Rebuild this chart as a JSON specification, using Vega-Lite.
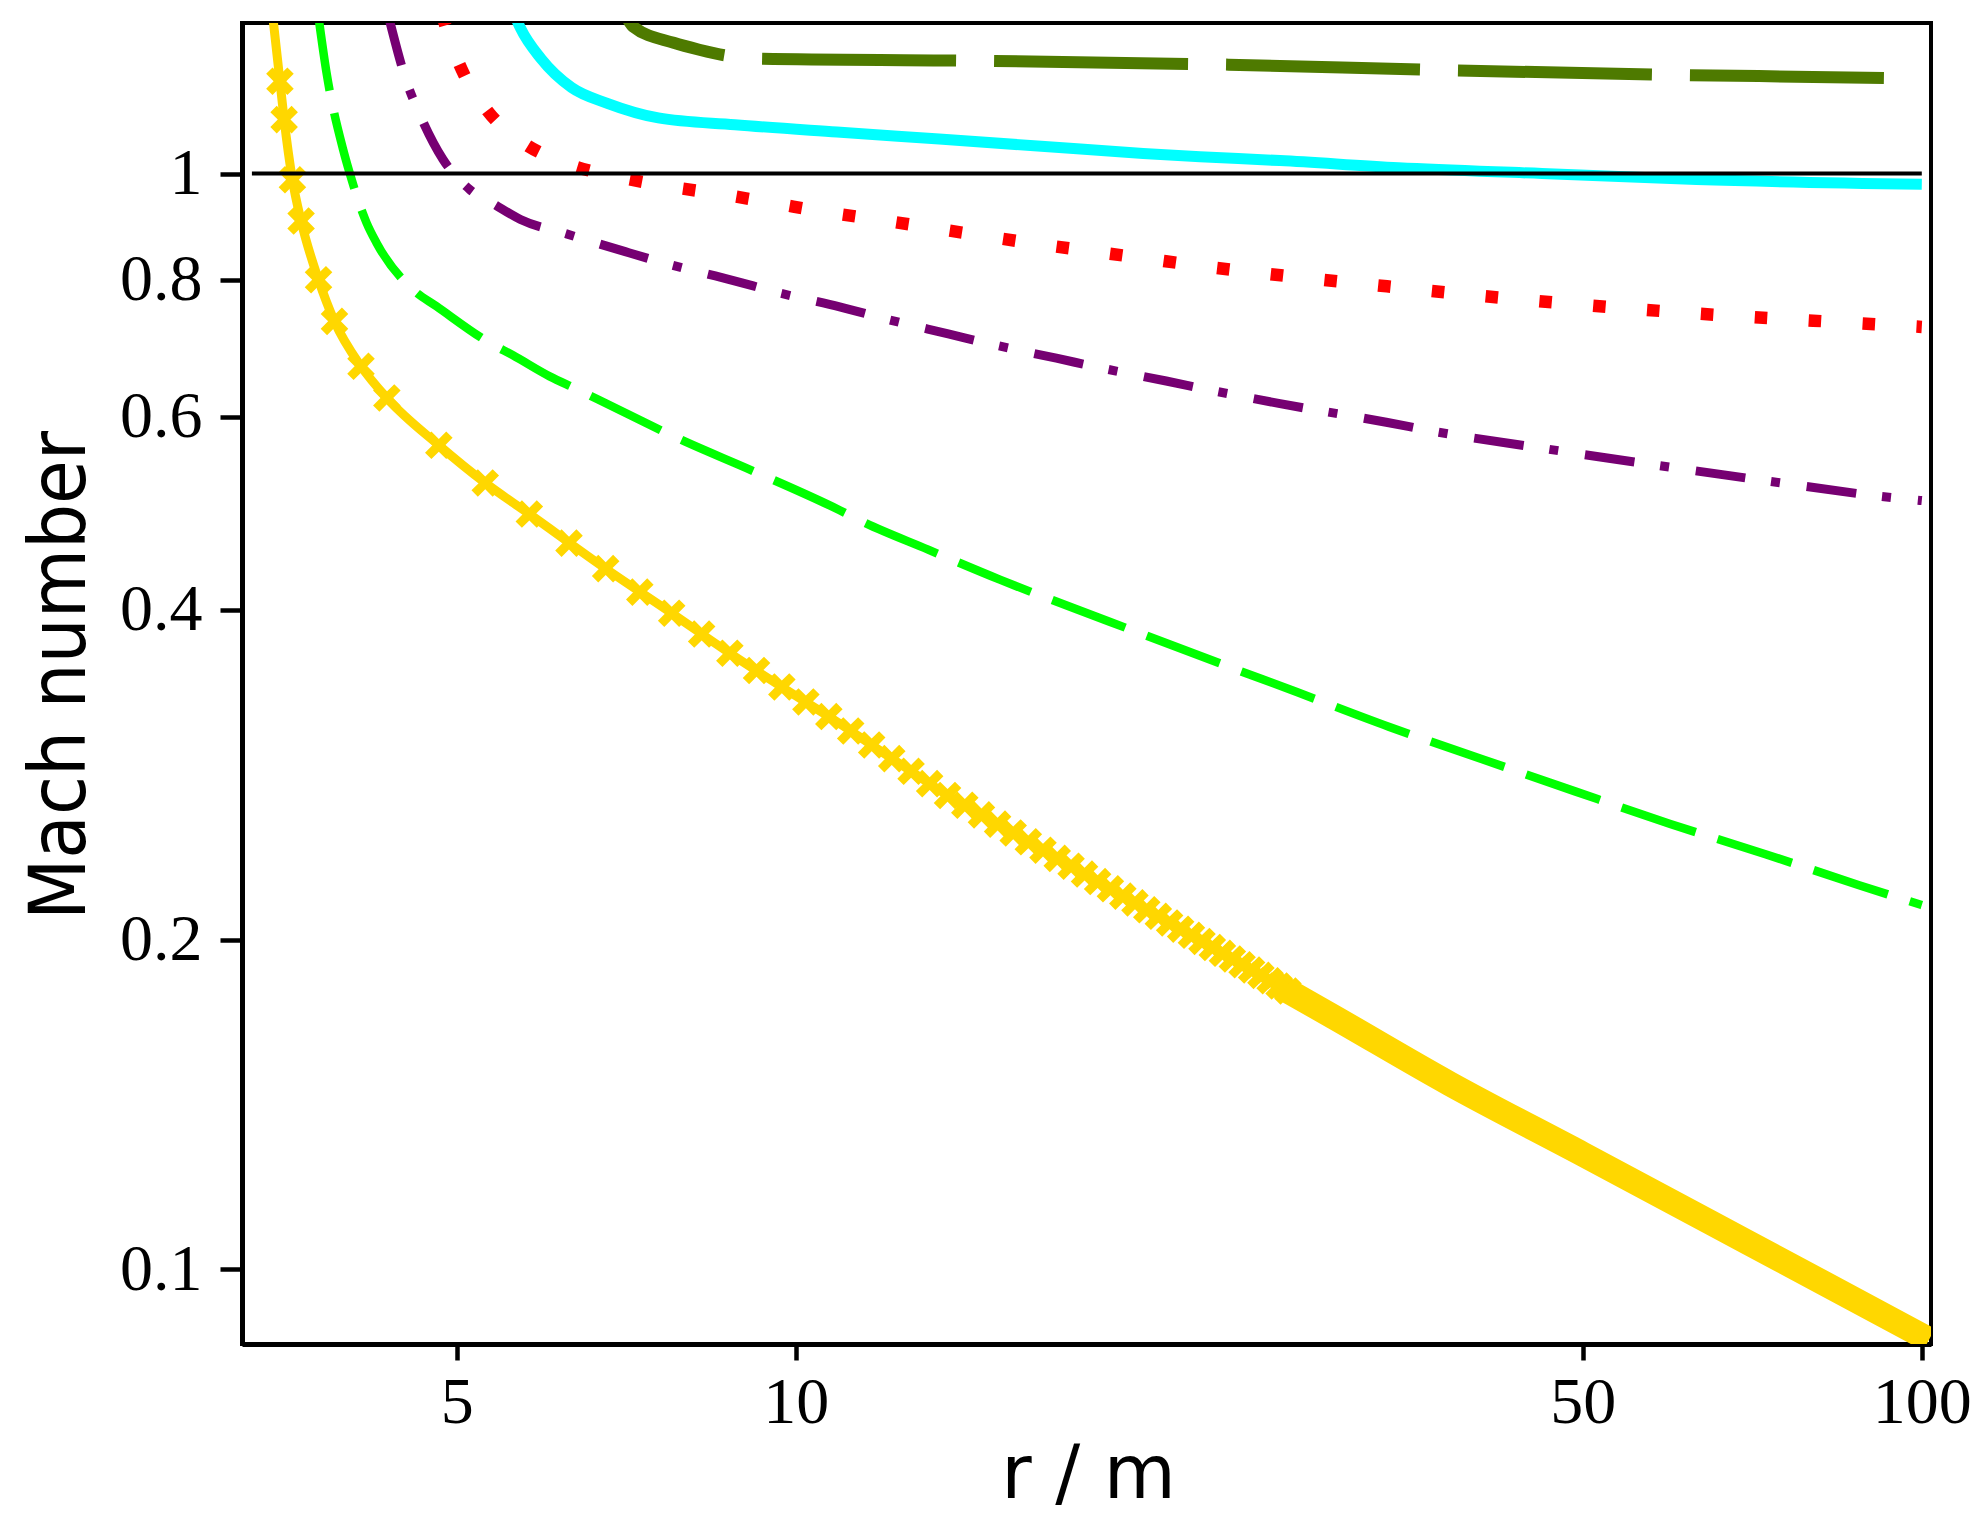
{
  "$schema": "https://vega.github.io/schema/vega-lite/v6.json",
  "width": 1689,
  "height": 1321,
  "autosize": {"type": "none"},
  "padding": {"left": 242, "top": 23, "right": 48, "bottom": 171},
  "background": "white",
  "config": {
    "view": {"stroke": "black", "strokeWidth": 4},
    "axis": {"grid": false, "domainColor": "black", "domainWidth": 5, "tickColor": "black", "tickWidth": 4.5, "labelColor": "black", "titleColor": "black", "labelFont": "Liberation Serif", "labelFontSize": 66, "titleFont": "DejaVu Sans", "titleFontWeight": "normal", "zindex": 1, "labelFlush": false, "labelOverlap": false}
  },
  "datasets": {
    "yellow": [
      {"r": 3.43, "M": 1.40}, {"r": 3.483, "M": 1.214}, {"r": 3.513, "M": 1.12}, {"r": 3.573, "M": 0.987}, {"r": 3.637, "M": 0.905}, {"r": 3.769, "M": 0.80}, {"r": 3.894, "M": 0.733}, {"r": 4.111, "M": 0.667}, {"r": 4.334, "M": 0.624}, {"r": 4.82, "M": 0.565}, {"r": 5.30, "M": 0.522}, {"r": 5.80, "M": 0.489}, {"r": 6.78, "M": 0.436}, {"r": 7.76, "M": 0.397}, {"r": 8.74, "M": 0.365}, {"r": 9.72, "M": 0.340}, {"r": 10.70, "M": 0.3195}, {"r": 11.68, "M": 0.301}, {"r": 12.66, "M": 0.2848}, {"r": 13.64, "M": 0.2707}, {"r": 16.09, "M": 0.2456}, {"r": 20.01, "M": 0.2160}, {"r": 25.40, "M": 0.1876}, {"r": 30, "M": 0.1701}, {"r": 38.1, "M": 0.1477}, {"r": 50, "M": 0.1274}, {"r": 70, "M": 0.1059}, {"r": 100, "M": 0.0870}
    ],
    "yellowMarks": [
      {"r": 3.483, "M": 1.214}, {"r": 3.513, "M": 1.12}, {"r": 3.573, "M": 0.987}, {"r": 3.637, "M": 0.905}, {"r": 3.769, "M": 0.80}, {"r": 3.894, "M": 0.733}, {"r": 4.111, "M": 0.667}, {"r": 4.334, "M": 0.624}, {"r": 4.82, "M": 0.565}, {"r": 5.30, "M": 0.522},
      {"r": 5.80, "M": 0.489}, {"r": 6.29, "M": 0.460}, {"r": 6.78, "M": 0.436}, {"r": 7.27, "M": 0.415}, {"r": 7.76, "M": 0.397}, {"r": 8.25, "M": 0.380}, {"r": 8.74, "M": 0.365}, {"r": 9.23, "M": 0.352}, {"r": 9.72, "M": 0.340}, {"r": 10.21, "M": 0.3295},
      {"r": 10.70, "M": 0.3195}, {"r": 11.19, "M": 0.310}, {"r": 11.68, "M": 0.301}, {"r": 12.17, "M": 0.2925}, {"r": 12.66, "M": 0.2848}, {"r": 13.15, "M": 0.2775}, {"r": 13.64, "M": 0.2707}, {"r": 14.13, "M": 0.2652}, {"r": 14.62, "M": 0.2599}, {"r": 15.11, "M": 0.2549},
      {"r": 15.60, "M": 0.2502}, {"r": 16.09, "M": 0.2456}, {"r": 16.58, "M": 0.2413}, {"r": 17.07, "M": 0.2372}, {"r": 17.56, "M": 0.2333}, {"r": 18.05, "M": 0.2295}, {"r": 18.54, "M": 0.2259}, {"r": 19.03, "M": 0.2225}, {"r": 19.52, "M": 0.2191}, {"r": 20.01, "M": 0.2160},
      {"r": 20.50, "M": 0.2129}, {"r": 20.99, "M": 0.2100}, {"r": 21.48, "M": 0.2071}, {"r": 21.97, "M": 0.2044}, {"r": 22.46, "M": 0.2018}, {"r": 22.95, "M": 0.1992}, {"r": 23.44, "M": 0.1967}, {"r": 23.93, "M": 0.1943}, {"r": 24.42, "M": 0.1920}, {"r": 24.91, "M": 0.1897},
      {"r": 25.40, "M": 0.1876}, {"r": 25.89, "M": 0.1855}, {"r": 26.38, "M": 0.1834}, {"r": 26.87, "M": 0.1814}, {"r": 27.36, "M": 0.1795}
    ],
    "band": [
      {"r": 26.6, "M": 0.1825}, {"r": 30, "M": 0.1701}, {"r": 38.1, "M": 0.1477}, {"r": 50, "M": 0.1274}, {"r": 70, "M": 0.1059}, {"r": 101.5, "M": 0.0863}
    ],
    "green": [
      {"r": 3.765, "M": 1.40}, {"r": 3.831, "M": 1.236}, {"r": 3.963, "M": 1.052}, {"r": 4.018, "M": 1.0}, {"r": 4.158, "M": 0.9016}, {"r": 4.244, "M": 0.8643}, {"r": 4.572, "M": 0.7836}, {"r": 4.797, "M": 0.7566}, {"r": 5.349, "M": 0.7006}, {"r": 5.609, "M": 0.6825}, {"r": 6.046, "M": 0.653}, {"r": 6.39, "M": 0.6357}, {"r": 6.676, "M": 0.622}, {"r": 7.97, "M": 0.5695}, {"r": 9.135, "M": 0.536}, {"r": 10.94, "M": 0.4929}, {"r": 11.44, "M": 0.4816}, {"r": 13.11, "M": 0.4537}, {"r": 15.18, "M": 0.426}, {"r": 19.0, "M": 0.390}, {"r": 23.99, "M": 0.3562}, {"r": 27.86, "M": 0.3364}, {"r": 33.62, "M": 0.3128}, {"r": 40.77, "M": 0.292}, {"r": 49.29, "M": 0.2729}, {"r": 59.79, "M": 0.255}, {"r": 72.53, "M": 0.2394}, {"r": 87.97, "M": 0.2242}, {"r": 100, "M": 0.215}
    ],
    "purple": [
      {"r": 4.35, "M": 1.39}, {"r": 4.511, "M": 1.214}, {"r": 4.636, "M": 1.132}, {"r": 4.862, "M": 1.030}, {"r": 5.134, "M": 0.967}, {"r": 5.403, "M": 0.937}, {"r": 5.696, "M": 0.908}, {"r": 6.258, "M": 0.881}, {"r": 7.057, "M": 0.8486}, {"r": 7.776, "M": 0.8246}, {"r": 8.786, "M": 0.799}, {"r": 9.68, "M": 0.778}, {"r": 10.94, "M": 0.7556}, {"r": 12.08, "M": 0.7358}, {"r": 13.66, "M": 0.714}, {"r": 15.07, "M": 0.697}, {"r": 17.04, "M": 0.6784}, {"r": 18.82, "M": 0.6635}, {"r": 21.33, "M": 0.6467}, {"r": 23.55, "M": 0.6332}, {"r": 26.92, "M": 0.6167}, {"r": 33.45, "M": 0.593}, {"r": 37.03, "M": 0.5813}, {"r": 46.53, "M": 0.5605}, {"r": 58.37, "M": 0.5415}, {"r": 73.45, "M": 0.5236}, {"r": 92.13, "M": 0.5074}, {"r": 100, "M": 0.503}
    ],
    "red": [
      {"r": 4.85, "M": 1.40}, {"r": 4.914, "M": 1.338}, {"r": 5.076, "M": 1.231}, {"r": 5.323, "M": 1.141}, {"r": 5.696, "M": 1.071}, {"r": 6.245, "M": 1.022}, {"r": 6.93, "M": 0.9935}, {"r": 7.727, "M": 0.973}, {"r": 8.622, "M": 0.9568}, {"r": 9.598, "M": 0.939}, {"r": 10.69, "M": 0.9214}, {"r": 11.93, "M": 0.9066}, {"r": 13.29, "M": 0.8912}, {"r": 14.82, "M": 0.8759}, {"r": 16.52, "M": 0.8615}, {"r": 18.43, "M": 0.8486}, {"r": 20.57, "M": 0.8358}, {"r": 22.92, "M": 0.8234}, {"r": 25.56, "M": 0.8124}, {"r": 31.85, "M": 0.7932}, {"r": 44.3, "M": 0.767}, {"r": 61.67, "M": 0.7464}, {"r": 85.96, "M": 0.731}, {"r": 100, "M": 0.7245}
    ],
    "cyan": [
      {"r": 5.62, "M": 1.40}, {"r": 5.696, "M": 1.357}, {"r": 5.94, "M": 1.273}, {"r": 6.323, "M": 1.198}, {"r": 6.803, "M": 1.159}, {"r": 7.551, "M": 1.124}, {"r": 8.831, "M": 1.108}, {"r": 10.88, "M": 1.091}, {"r": 13.41, "M": 1.075}, {"r": 16.52, "M": 1.059}, {"r": 20.35, "M": 1.043}, {"r": 22.86, "M": 1.036}, {"r": 26.92, "M": 1.0275}, {"r": 34.3, "M": 1.012}, {"r": 46, "M": 1.0}, {"r": 63.1, "M": 0.9874}, {"r": 100, "M": 0.9776}
    ],
    "olive": [
      {"r": 7.06, "M": 1.395}, {"r": 7.17, "M": 1.362}, {"r": 7.792, "M": 1.316}, {"r": 8.21, "M": 1.297}, {"r": 8.647, "M": 1.282}, {"r": 9.35, "M": 1.273}, {"r": 13.9, "M": 1.268}, {"r": 22.35, "M": 1.259}, {"r": 24.24, "M": 1.257}, {"r": 36.05, "M": 1.244}, {"r": 57.9, "M": 1.231}, {"r": 93.2, "M": 1.222}, {"r": 100, "M": 1.220}
    ],
    "ref": [{"r": 3.289, "r2": 100, "M": 1}]
  },
  "encoding": {
    "x": {
      "field": "r", "type": "quantitative",
      "scale": {"type": "log", "domain": [3.223, 101.9], "nice": false},
      "axis": {"values": [5, 10, 50, 100], "format": "~g", "title": "r / m", "tickSize": 16, "labelBaseline": "alphabetic", "labelPadding": 62, "titleFontSize": 74, "titleBaseline": "alphabetic", "titleX": 846, "titleY": 153, "titleAnchor": "middle"}
    },
    "y": {
      "field": "M", "type": "quantitative",
      "scale": {"type": "log", "domain": [0.0855, 1.372], "nice": false},
      "axis": {"values": [0.1, 0.2, 0.4, 0.6, 0.8, 1], "format": "~g", "title": "Mach number", "tickSize": 22, "labelPadding": 18, "labelBaseline": "middle", "titleFont": "DejaVu Sans Condensed, DejaVu Sans", "titleFontSize": 79, "titleAngle": 270, "titleBaseline": "alphabetic", "titleAlign": "center", "titleX": -158, "titleY": 652}
    }
  },
  "layer": [
    {"data": {"name": "olive"}, "mark": {"type": "line", "clip": true, "color": "#4E7A00", "strokeWidth": 12, "strokeDash": [194, 38], "strokeDashOffset": 84, "interpolate": "monotone"}},
    {"data": {"name": "cyan"}, "mark": {"type": "line", "clip": true, "color": "#00FFFF", "strokeWidth": 11, "interpolate": "monotone"}},
    {"data": {"name": "red"}, "mark": {"type": "line", "clip": true, "color": "#FF0000", "strokeWidth": 12.5, "strokeDash": [12.5, 41.5], "interpolate": "monotone"}},
    {"data": {"name": "purple"}, "mark": {"type": "line", "clip": true, "color": "#760072", "strokeWidth": 9, "strokeDash": [50, 26, 9, 27], "interpolate": "monotone"}},
    {"data": {"name": "green"}, "mark": {"type": "line", "clip": true, "color": "#00FF00", "strokeWidth": 8.5, "strokeDash": [78, 23], "interpolate": "monotone"}},
    {"data": {"name": "yellow"}, "mark": {"type": "line", "clip": true, "color": "#FFD700", "strokeWidth": 9, "interpolate": "monotone"}},
    {"data": {"name": "band"}, "mark": {"type": "line", "clip": true, "color": "#FFD700", "strokeWidth": 25, "interpolate": "monotone"}},
    {"data": {"name": "yellowMarks"}, "mark": {"type": "point", "clip": true, "filled": true, "color": "#FFD700", "opacity": 1, "strokeWidth": 0, "size": 900, "angle": 45, "shape": "M-1,-0.3L-0.3,-0.3L-0.3,-1L0.3,-1L0.3,-0.3L1,-0.3L1,0.3L0.3,0.3L0.3,1L-0.3,1L-0.3,0.3L-1,0.3Z"}},
    {"data": {"name": "ref"}, "mark": {"type": "rule", "clip": true, "color": "black", "strokeWidth": 4}, "encoding": {"x2": {"field": "r2"}}}
  ]
}
